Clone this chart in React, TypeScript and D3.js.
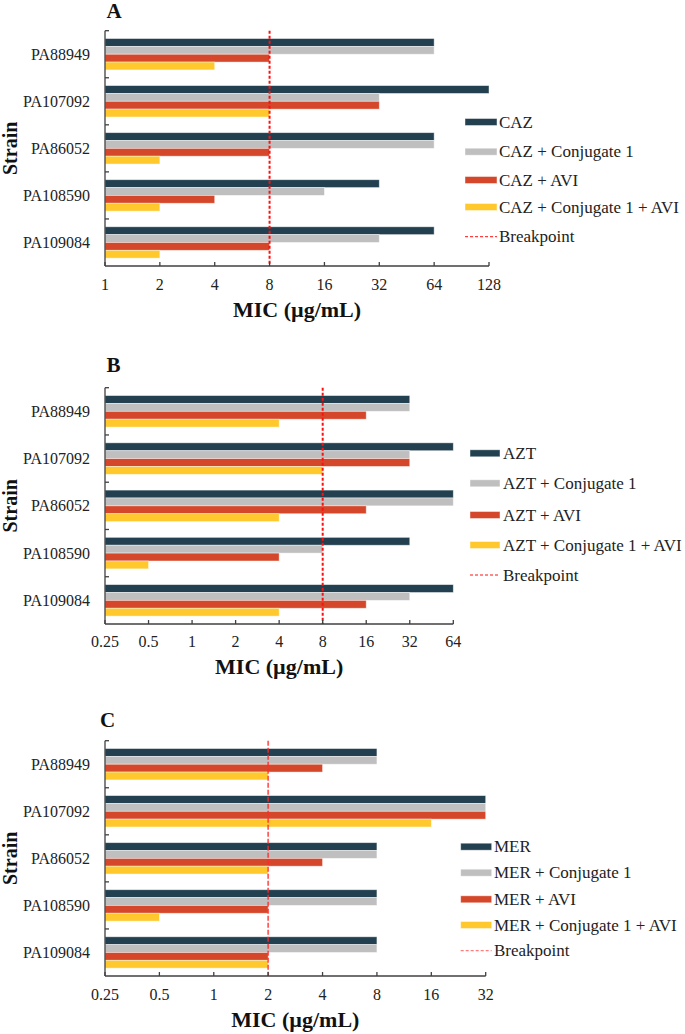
import React from "react";
import * as d3 from "d3";

const strains = ["PA88949", "PA107092", "PA86052", "PA108590", "PA109084"];

// Panel A (CAZ)
const cazAlone = [64, 128, 64, 32, 64];
const cazConj = [64, 32, 64, 16, 32];
const cazAvi = [8, 32, 8, 4, 8];
const cazConjAvi = [4, 8, 2, 2, 2];
const ticksA = [1, 2, 4, 8, 16, 32, 64, 128];
const breakpointA = 8;

// Panel B (AZT)
const aztAlone = [32, 64, 64, 32, 64];
const aztConj = [32, 32, 64, 8, 32];
const aztAvi = [16, 32, 16, 4, 16];
const aztConjAvi = [4, 8, 4, 0.5, 4];
const ticksB = [0.25, 0.5, 1, 2, 4, 8, 16, 32, 64];
const breakpointB = 8;

// Panel C (MER)
const merAlone = [8, 32, 8, 8, 8];
const merConj = [8, 32, 8, 8, 8];
const merAvi = [4, 32, 4, 2, 2];
const merConjAvi = [2, 16, 2, 0.5, 2];
const ticksC = [0.25, 0.5, 1, 2, 4, 8, 16, 32];
const breakpointC = 2;

const seriesSuffixes = ["", " + Conjugate 1", " + AVI", " + Conjugate 1 + AVI"];
const colors = ["#22404F", "#BFBFBF", "#D5472A", "#FFC82C"];

const FONT = "Liberation Serif, DejaVu Serif, Times New Roman, serif";

type PanelProps = {
  letter: string;
  drug: string;
  series: number[][];
  ticks: number[];
  breakpoint: number;
  yTop: number;
  yBottom: number;
  x0: number;
  x1: number;
  titleX: number;
  titleY: number;
  tickY: number;
  labelY: number;
  legX0: number;
  legX1: number;
  legTextX: number;
  legRows: number[];
  bpColor: string;
  bpDash: string;
  bpWidth: number;
};

function Panel(p: PanelProps) {
  const x = d3
    .scaleLog()
    .base(2)
    .domain([p.ticks[0], p.ticks[p.ticks.length - 1]])
    .range([p.x0, p.x1]);
  const y = d3
    .scaleBand<string>()
    .domain(strains)
    .range([p.yTop, p.yBottom])
    .paddingInner(1 / 3)
    .paddingOuter(1 / 6);
  const step = y.step();
  const barH = y.bandwidth() / 4;
  const axisColor = "#404040";
  const boundaries = d3.range(strains.length).map((i) => p.yTop + i * step);
  const cx = (p.x0 + p.x1) / 2;
  const cy = (p.yTop + p.yBottom) / 2;
  return (
    <g>
      <text x={p.titleX} y={p.titleY} style={{ fontFamily: FONT }} fontWeight="bold" fontSize={21} fill="#111">
        {p.letter}
      </text>
      {strains.map((s, i) => (
        <g key={s}>
          {p.series.map((vals, k) => (
            <rect
              key={k}
              x={x(p.ticks[0])}
              y={(y(s) as number) + k * barH}
              width={x(vals[i]) - x(p.ticks[0])}
              height={barH}
              fill={colors[k]}
              stroke="rgba(255,255,255,0.55)"
              strokeWidth={0.8}
            />
          ))}
          <text
            x={90}
            y={(y(s) as number) + y.bandwidth() / 2}
            textAnchor="end"
            dominantBaseline="central"
            style={{ fontFamily: FONT }}
            fontSize={16}
            fill="#222"
          >
            {s}
          </text>
        </g>
      ))}
      <line
        x1={x(p.breakpoint)}
        x2={x(p.breakpoint)}
        y1={p.yTop}
        y2={p.yBottom}
        stroke={p.bpColor}
        strokeWidth={p.bpWidth}
        strokeDasharray={p.bpDash}
      />
      <line x1={p.x0} x2={p.x0} y1={p.yTop} y2={p.yBottom} stroke={axisColor} strokeWidth={1.3} />
      <line x1={p.x0} x2={p.x1} y1={p.yBottom} y2={p.yBottom} stroke={axisColor} strokeWidth={1.3} />
      {boundaries.map((b, i) => (
        <line key={i} x1={p.x0} x2={p.x0 + 4} y1={b} y2={b} stroke={axisColor} strokeWidth={1.3} />
      ))}
      {p.ticks.map((t) => (
        <g key={t}>
          <line x1={x(t)} x2={x(t)} y1={p.yBottom} y2={p.yBottom - 4} stroke={axisColor} strokeWidth={1.3} />
          <text x={x(t)} y={p.tickY} textAnchor="middle" style={{ fontFamily: FONT }} fontSize={16} fill="#222">
            {String(t)}
          </text>
        </g>
      ))}
      <text x={cx} y={p.labelY} textAnchor="middle" style={{ fontFamily: FONT }} fontWeight="bold" fontSize={22} fill="#111">
        MIC (µg/mL)
      </text>
      <text
        transform={`translate(17,${cy}) rotate(-90)`}
        textAnchor="middle"
        style={{ fontFamily: FONT }}
        fontWeight="bold"
        fontSize={20}
        fill="#111"
      >
        Strain
      </text>
      {seriesSuffixes.map((suf, k) => (
        <g key={k}>
          <rect
            x={p.legX0}
            y={p.legRows[k] - 3.5}
            width={p.legX1 - p.legX0}
            height={7}
            fill={colors[k]}
            stroke="rgba(255,255,255,0.55)"
            strokeWidth={0.8}
          />
          <text
            x={p.legTextX}
            y={p.legRows[k]}
            dominantBaseline="central"
            style={{ fontFamily: FONT }}
            fontSize={17}
            fill="#222"
          >
            {p.drug + suf}
          </text>
        </g>
      ))}
      <line
        x1={p.legX0}
        x2={p.legX1}
        y1={p.legRows[4]}
        y2={p.legRows[4]}
        stroke={p.bpColor}
        strokeWidth={1}
        strokeDasharray="3,2"
      />
      <text
        x={p.legTextX}
        y={p.legRows[4]}
        dominantBaseline="central"
        style={{ fontFamily: FONT }}
        fontSize={17}
        fill="#222"
      >
        Breakpoint
      </text>
    </g>
  );
}

export default function App() {
  return (
    <svg
      width={685}
      height={1034}
      style={{ position: "absolute", left: 0, top: 0, background: "#fff" }}
    >
      <rect width={685} height={1034} fill="#fff" />
      <Panel
        letter="A"
        drug="CAZ"
        series={[cazAlone, cazConj, cazAvi, cazConjAvi]}
        ticks={ticksA}
        breakpoint={breakpointA}
        yTop={30.7}
        yBottom={266}
        x0={105}
        x1={489}
        titleX={106.5}
        titleY={18}
        tickY={290}
        labelY={317}
        legX0={465}
        legX1={497}
        legTextX={499}
        legRows={[122, 151.7, 180, 207, 236.7]}
        bpColor="#FF1010"
        bpDash="3,2"
        bpWidth={2}
      />
      <Panel
        letter="B"
        drug="AZT"
        series={[aztAlone, aztConj, aztAvi, aztConjAvi]}
        ticks={ticksB}
        breakpoint={breakpointB}
        yTop={387.7}
        yBottom={624}
        x0={105}
        x1={453.3}
        titleX={106.5}
        titleY={372}
        tickY={647}
        labelY={674}
        legX0={470}
        legX1={500}
        legTextX={503}
        legRows={[453.3, 483.3, 515, 545, 575]}
        bpColor="#FF1010"
        bpDash="3,2"
        bpWidth={2}
      />
      <Panel
        letter="C"
        drug="MER"
        series={[merAlone, merConj, merAvi, merConjAvi]}
        ticks={ticksC}
        breakpoint={breakpointC}
        yTop={740.7}
        yBottom={976}
        x0={105}
        x1={485.7}
        titleX={100}
        titleY={727}
        tickY={1000}
        labelY={1027}
        legX0={460.7}
        legX1={491.7}
        legTextX={494}
        legRows={[846.7, 872.7, 899.3, 925, 950.7]}
        bpColor="rgba(255,40,40,0.75)"
        bpDash="5,2"
        bpWidth={1.8}
      />
    </svg>
  );
}
